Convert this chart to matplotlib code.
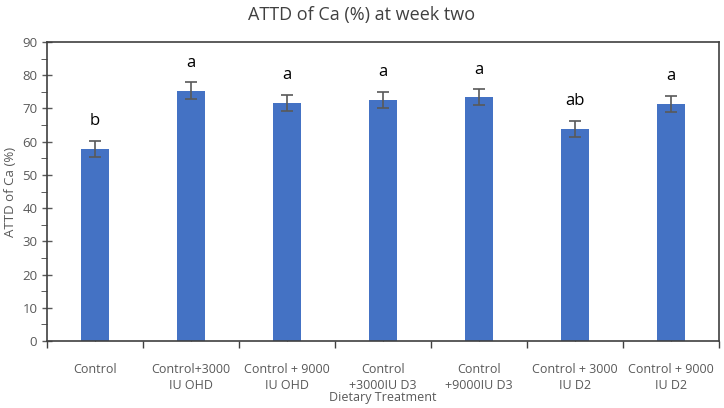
import matplotlib.pyplot as plt
import numpy as np

plt.rcParams['font.family'] = ['Open Sans', 'DejaVu Sans']

categories = ["Control", "Control+3000\nIU OHD", "Control + 9000\nIU OHD",
              "Control\n+3000IU D3", "Control\n+9000IU D3", "Control + 3000\nIU D2",
              "Control + 9000\nIU D2"]
means = [57.8, 75.4, 71.7, 72.6, 73.4, 63.9, 71.4]
errors = [2.4, 2.5, 2.4, 2.4, 2.4, 2.4, 2.4]
letters = ["b", "a", "a", "a", "a", "ab", "a"]

fig = plt.figure(figsize=(7.24, 4.08), dpi=100)
ax = fig.add_axes([0.065, 0.164, 0.928, 0.733])

x = np.arange(len(categories))
ax.bar(x, means, width=0.3, color="#4472C4", zorder=2)
ax.errorbar(x, means, yerr=errors, fmt="none", ecolor="#595959",
            elinewidth=1.2, capsize=4, capthick=1.2, zorder=3)
for xi, m, e, lab in zip(x, means, errors, letters):
    ax.text(xi, m + e + 3.5, lab, ha="center", va="bottom", fontsize=12,
            color="black")

ax.set_xlim(-0.5, len(categories) - 0.5)
ax.set_ylim(0, 90)
ax.set_yticks(np.arange(0, 91, 10))
ax.set_yticks(np.arange(5, 90, 10), minor=True)
ax.set_xticks(x)
ax.set_xticklabels(categories, fontsize=9, color="#595959", linespacing=1.25)
ax.tick_params(axis="x", length=3, direction="in", color="#404040", pad=16)
ax.set_xticks(np.arange(-0.5, len(categories), 1), minor=True)
ax.tick_params(axis="x", which="minor", length=5, width=1, color="#404040")
ax.tick_params(axis="y", labelsize=9.5, colors="#595959", length=7,
               direction="inout", width=1)
ax.tick_params(axis="y", which="minor", length=4, color="#404040")
for s in ax.spines.values():
    s.set_color("#404040")
    s.set_linewidth(1.2)

ax.set_ylabel("ATTD of Ca (%)", fontsize=9.5, color="#595959", labelpad=4)
ax.set_xlabel("Dietary Treatment", fontsize=9, color="#595959", labelpad=0)
ax.xaxis.set_label_coords(0.5, -0.168)
fig.suptitle("ATTD of Ca (%) at week two", fontsize=13, color="#404040", y=0.985)

fig.savefig("out.png", dpi=100)
